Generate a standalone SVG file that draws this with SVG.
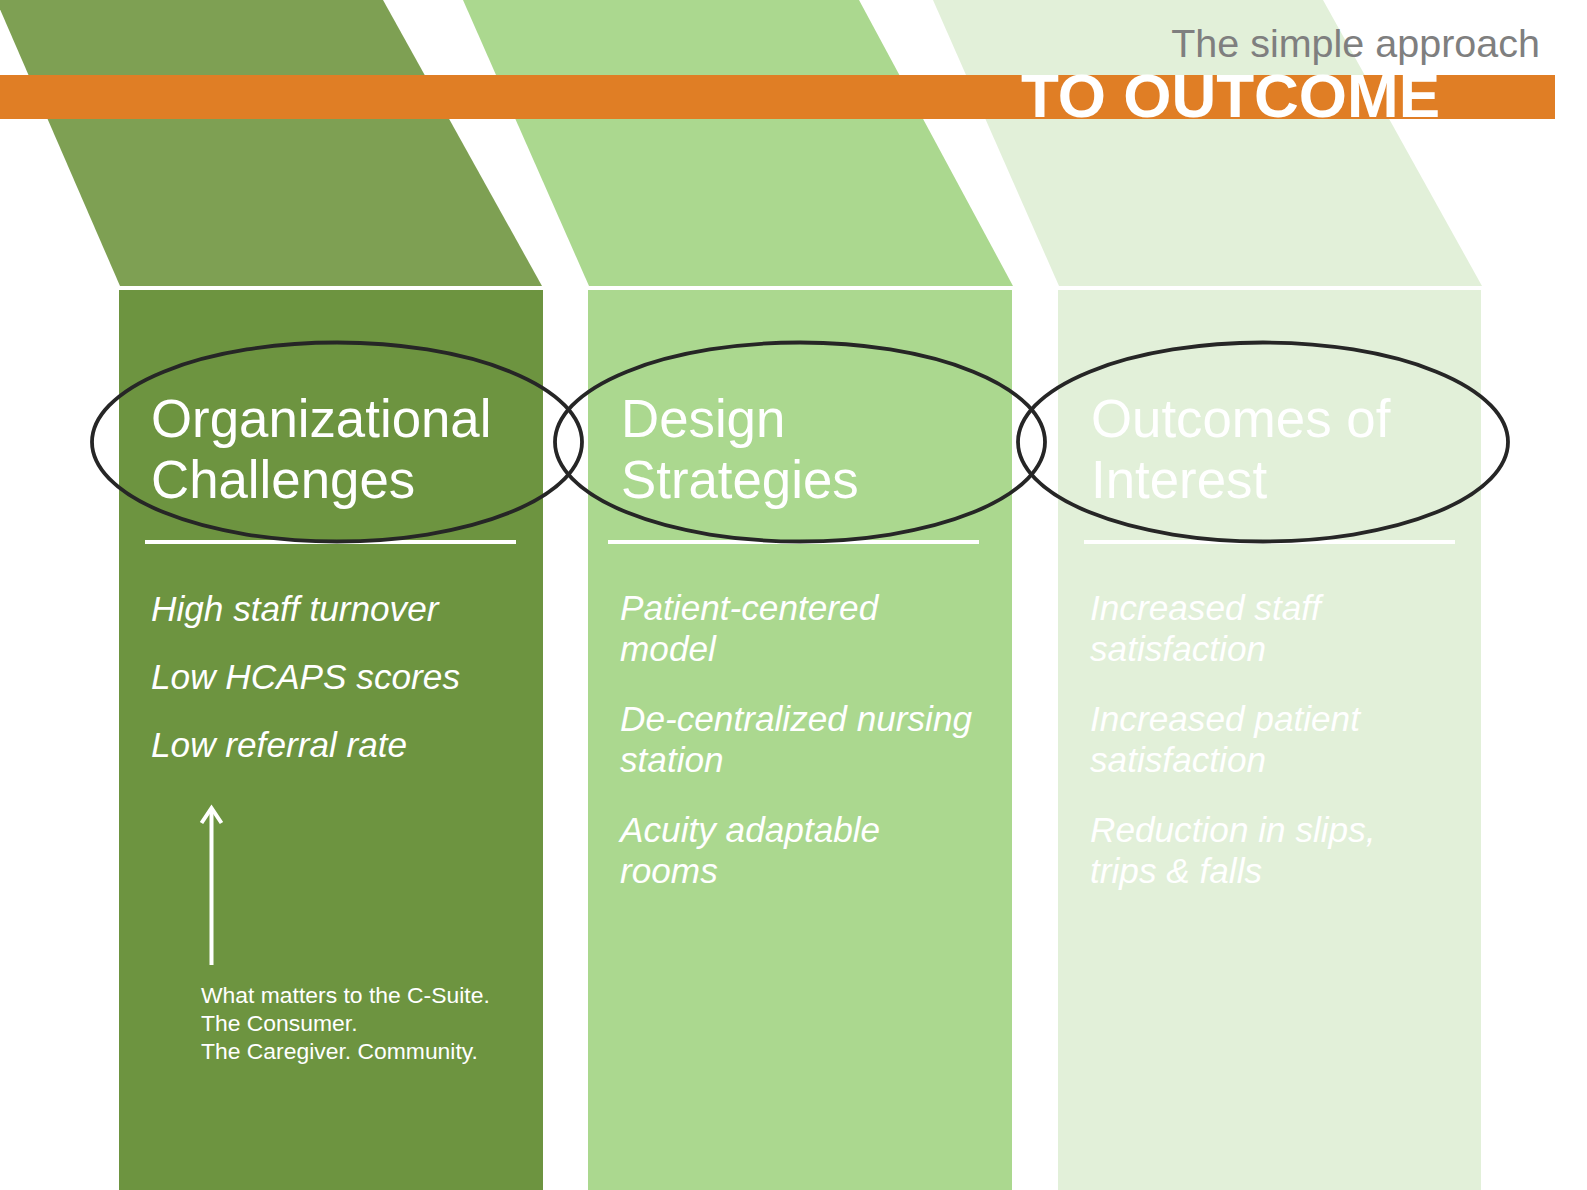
<svg xmlns="http://www.w3.org/2000/svg" width="1587" height="1190" viewBox="0 0 1587 1190">
<style>
.head{font-family:"Liberation Sans",Arial,sans-serif;font-size:52.8px;fill:#FFFFFF}
.item{font-family:"Liberation Sans",Arial,sans-serif;font-size:35.2px;font-style:italic;fill:#FFFFFF}
.note{font-family:"Liberation Sans",Arial,sans-serif;font-size:22.9px;fill:#FFFFFF}
.ring{fill:none;stroke:#262626;stroke-width:3.8}
.rule{stroke:#FFFFFF;stroke-width:4}
</style>
<rect x="0" y="0" width="1587" height="1190" fill="#FFFFFF"/>
<g id="col1">
<polygon points="-4,0 383,0 542,286 120,286" fill="#7EA053"/>
<rect x="119" y="290" width="424" height="900" fill="#6D9440"/>
</g>
<g id="col2">
<polygon points="463,0 859,0 1013,286 589,286" fill="#ABD88F"/>
<rect x="588" y="290" width="424" height="900" fill="#ABD88F"/>
</g>
<g id="col3">
<polygon points="933,0 1323,0 1482,286 1059,286" fill="#E2F0D9"/>
<rect x="1058" y="290" width="423" height="900" fill="#E2F0D9"/>
</g>
<g id="banner">
<rect x="0" y="75" width="1555" height="44" fill="#E07E25"/>
<text x="1540" y="57" text-anchor="end" font-family="Liberation Sans, Arial, sans-serif" font-size="39.5" fill="#7F7F7F">The simple approach</text>
<text x="1021" y="117" font-family="Liberation Sans, Arial, sans-serif" font-size="61" font-weight="bold" fill="#FFFFFF" textLength="419" lengthAdjust="spacingAndGlyphs">TO OUTCOME</text>
</g>
<g id="node-challenges">
<text class="head" x="151" y="437">Organizational</text>
<text class="head" x="151" y="498">Challenges</text>
<line class="rule" x1="145" y1="542" x2="516" y2="542"/>
<text class="item" x="151" y="621">High staff turnover</text>
<text class="item" x="151" y="689">Low HCAPS scores</text>
<text class="item" x="151" y="757">Low referral rate</text>
</g>
<g id="node-strategies">
<text class="head" x="621" y="437">Design</text>
<text class="head" x="621" y="498">Strategies</text>
<line class="rule" x1="608" y1="542" x2="979" y2="542"/>
<text class="item" x="620" y="620">Patient-centered</text>
<text class="item" x="620" y="661">model</text>
<text class="item" x="620" y="731">De-centralized nursing</text>
<text class="item" x="620" y="772">station</text>
<text class="item" x="620" y="842">Acuity adaptable</text>
<text class="item" x="620" y="883">rooms</text>
</g>
<g id="node-outcomes">
<text class="head" x="1091" y="437">Outcomes of</text>
<text class="head" x="1091" y="498">Interest</text>
<line class="rule" x1="1084" y1="542" x2="1455" y2="542"/>
<text class="item" x="1090" y="620">Increased staff</text>
<text class="item" x="1090" y="661">satisfaction</text>
<text class="item" x="1090" y="731">Increased patient</text>
<text class="item" x="1090" y="772">satisfaction</text>
<text class="item" x="1090" y="842">Reduction in slips,</text>
<text class="item" x="1090" y="883">trips &amp; falls</text>
</g>
<g id="rings">
<ellipse class="ring" cx="337" cy="442" rx="245" ry="99.5"/>
<ellipse class="ring" cx="800" cy="442" rx="245" ry="99.5"/>
<ellipse class="ring" cx="1263" cy="442" rx="245" ry="99.5"/>
</g>
<g id="connectors">
<line x1="211.5" y1="965" x2="211.5" y2="809" stroke="#FFFFFF" stroke-width="4"/>
<polyline points="201.5,823 211.5,808 221.5,823" fill="none" stroke="#FFFFFF" stroke-width="4"/>
</g>
<g id="node-note">
<text class="note" x="201" y="1003">What matters to the C-Suite.</text>
<text class="note" x="201" y="1031">The Consumer.</text>
<text class="note" x="201" y="1059">The Caregiver. Community.</text>
</g>
</svg>
